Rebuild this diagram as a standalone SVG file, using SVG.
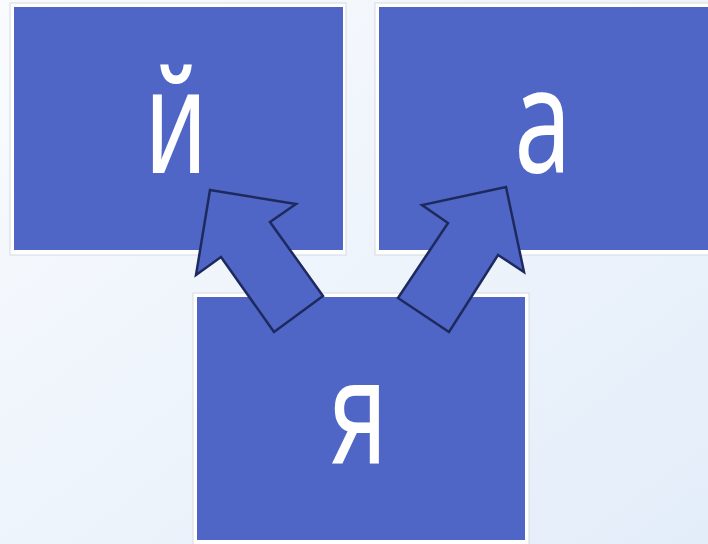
<svg xmlns="http://www.w3.org/2000/svg" width="708" height="544" viewBox="0 0 708 544">
<defs>
<linearGradient id="bg" x1="0" y1="0" x2="1" y2="1">
<stop offset="0" stop-color="#F9FBFE"/>
<stop offset="1" stop-color="#E3EDF9"/>
</linearGradient>
<style>
.frame{fill:#FFFFFF;stroke:#D6D9DE;stroke-width:1}
.box{fill:#4F66C7}
.lbl{fill:#FFFFFF;font-family:"Noto Sans","Open Sans","DejaVu Sans",sans-serif;font-size:146px;text-anchor:middle}
.arrow{fill:#4F66C7;stroke:#1E2A5E;stroke-width:2.5;stroke-linejoin:miter}
</style>
</defs>
<rect width="708" height="544" fill="url(#bg)"/>
<g id="node-y-short">
<rect class="frame" x="10" y="3" width="336" height="252"/>
<rect class="box" x="14" y="7" width="329" height="243"/>
<text class="lbl" transform="translate(176,173) scale(0.7,1)">й</text>
</g>
<g id="node-a">
<rect class="frame" x="375" y="3" width="336" height="252"/>
<rect class="box" x="379" y="7" width="329" height="243"/>
<text class="lbl" transform="translate(543,173) scale(0.7,1)">а</text>
</g>
<g id="node-ya">
<rect class="frame" x="193" y="293" width="336" height="252"/>
<rect class="box" x="197" y="297" width="328" height="243"/>
<text class="lbl" transform="translate(358,463) scale(0.7,1)">я</text>
</g>
<g id="connectors">
<polygon class="arrow" points="210,190 296,204 270,222 323,296 274,332 221,257 196,275"/>
<polygon class="arrow" points="506,187 524,272 498,255 449,332 398,298 448,223 422,205"/>
</g>
</svg>
